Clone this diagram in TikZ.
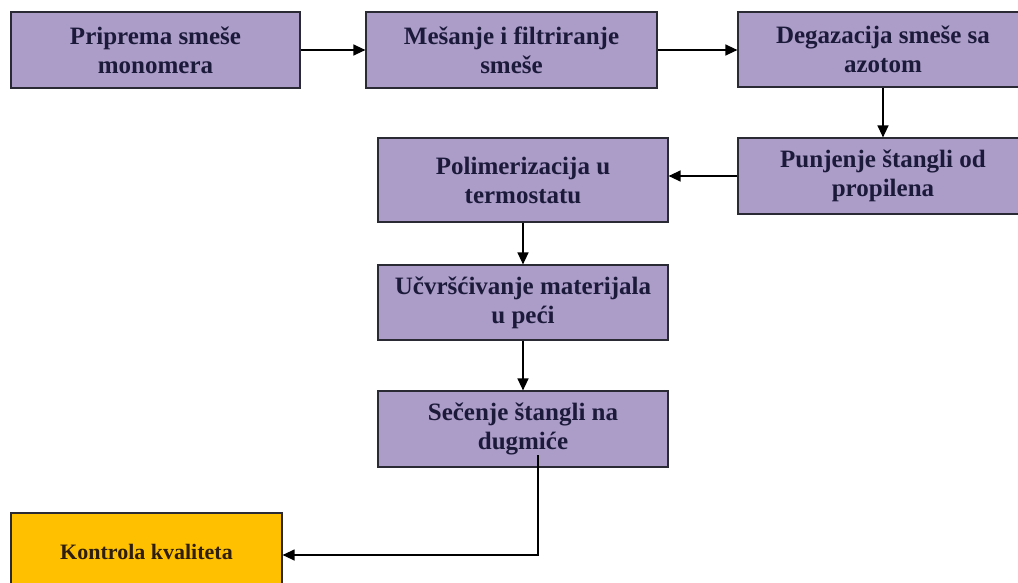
\documentclass[tikz,border=0pt]{standalone}
\usepackage{fontspec}
\setmainfont{Liberation Serif}
\usetikzlibrary{arrows.meta}
\definecolor{boxfill}{HTML}{AB9CC8}
\definecolor{kfill}{HTML}{FFC000}
\definecolor{txt}{HTML}{1C1A3A}
\definecolor{ktxt}{HTML}{2E1E0C}
\definecolor{edge}{HTML}{2A2A35}
\tikzset{
  stepbox/.style={draw=edge, line width=1.2pt, fill=boxfill, rectangle,
    minimum width=290pt, minimum height=76pt, inner sep=0pt,
    align=center, text=txt, font=\fontsize{25}{29}\selectfont\bfseries},
  qbox/.style={stepbox, fill=kfill, text=ktxt, minimum width=271pt, minimum height=78pt,
    font=\fontsize{22}{26}\selectfont\bfseries},
  conn/.style={draw=black, line width=1.3pt, -{Triangle[length=12pt,width=11pt]}}
}
\begin{document}
\begin{tikzpicture}[x=1pt,y=1pt]
\useasboundingbox (0,0) rectangle (1018,-582);
\fill[white] (0,0) rectangle (1018,-582);
\begin{scope}
\clip (0,0) rectangle (1018,-582);
\node[stepbox, minimum width=289pt] (b1) at (155.5,-50) {Priprema smeše\\monomera};
\node[stepbox, minimum width=291pt] (b2) at (511.5,-50) {Mešanje i filtriranje\\smeše};
\node[stepbox, minimum height=75pt] (b3) at (883,-49.5) {Degazacija smeše sa\\azotom};
\node[stepbox] (b4) at (883,-176) {Punjenje štangli od\\propilena};
\node[stepbox, minimum height=84pt] (b5) at (523,-180) {Polimerizacija u\\termostatu};
\node[stepbox, minimum height=75pt] (b6) at (523,-302.5) {Učvršćivanje materijala\\u peći};
\node[stepbox] (b7) at (523,-429) {Sečenje štangli na\\dugmiće};
\node[qbox] (b8) at (146.5,-552) {Kontrola kvaliteta};
\coordinate (c1) at (538,-455);
\draw[conn] (b1.east) -- (b2.west);
\draw[conn] (b2.east) -- (b2.east -| b3.west);
\draw[conn] (b3.south) -- (b4.north);
\draw[conn] (b4.west) -- (b4.west -| b5.east);
\draw[conn] (b5.south) -- (b6.north);
\draw[conn] (b6.south) -- (b7.north);
\draw[conn] (c1) |- ([yshift=-3pt]b8.east);
\end{scope}
\end{tikzpicture}
\end{document}
